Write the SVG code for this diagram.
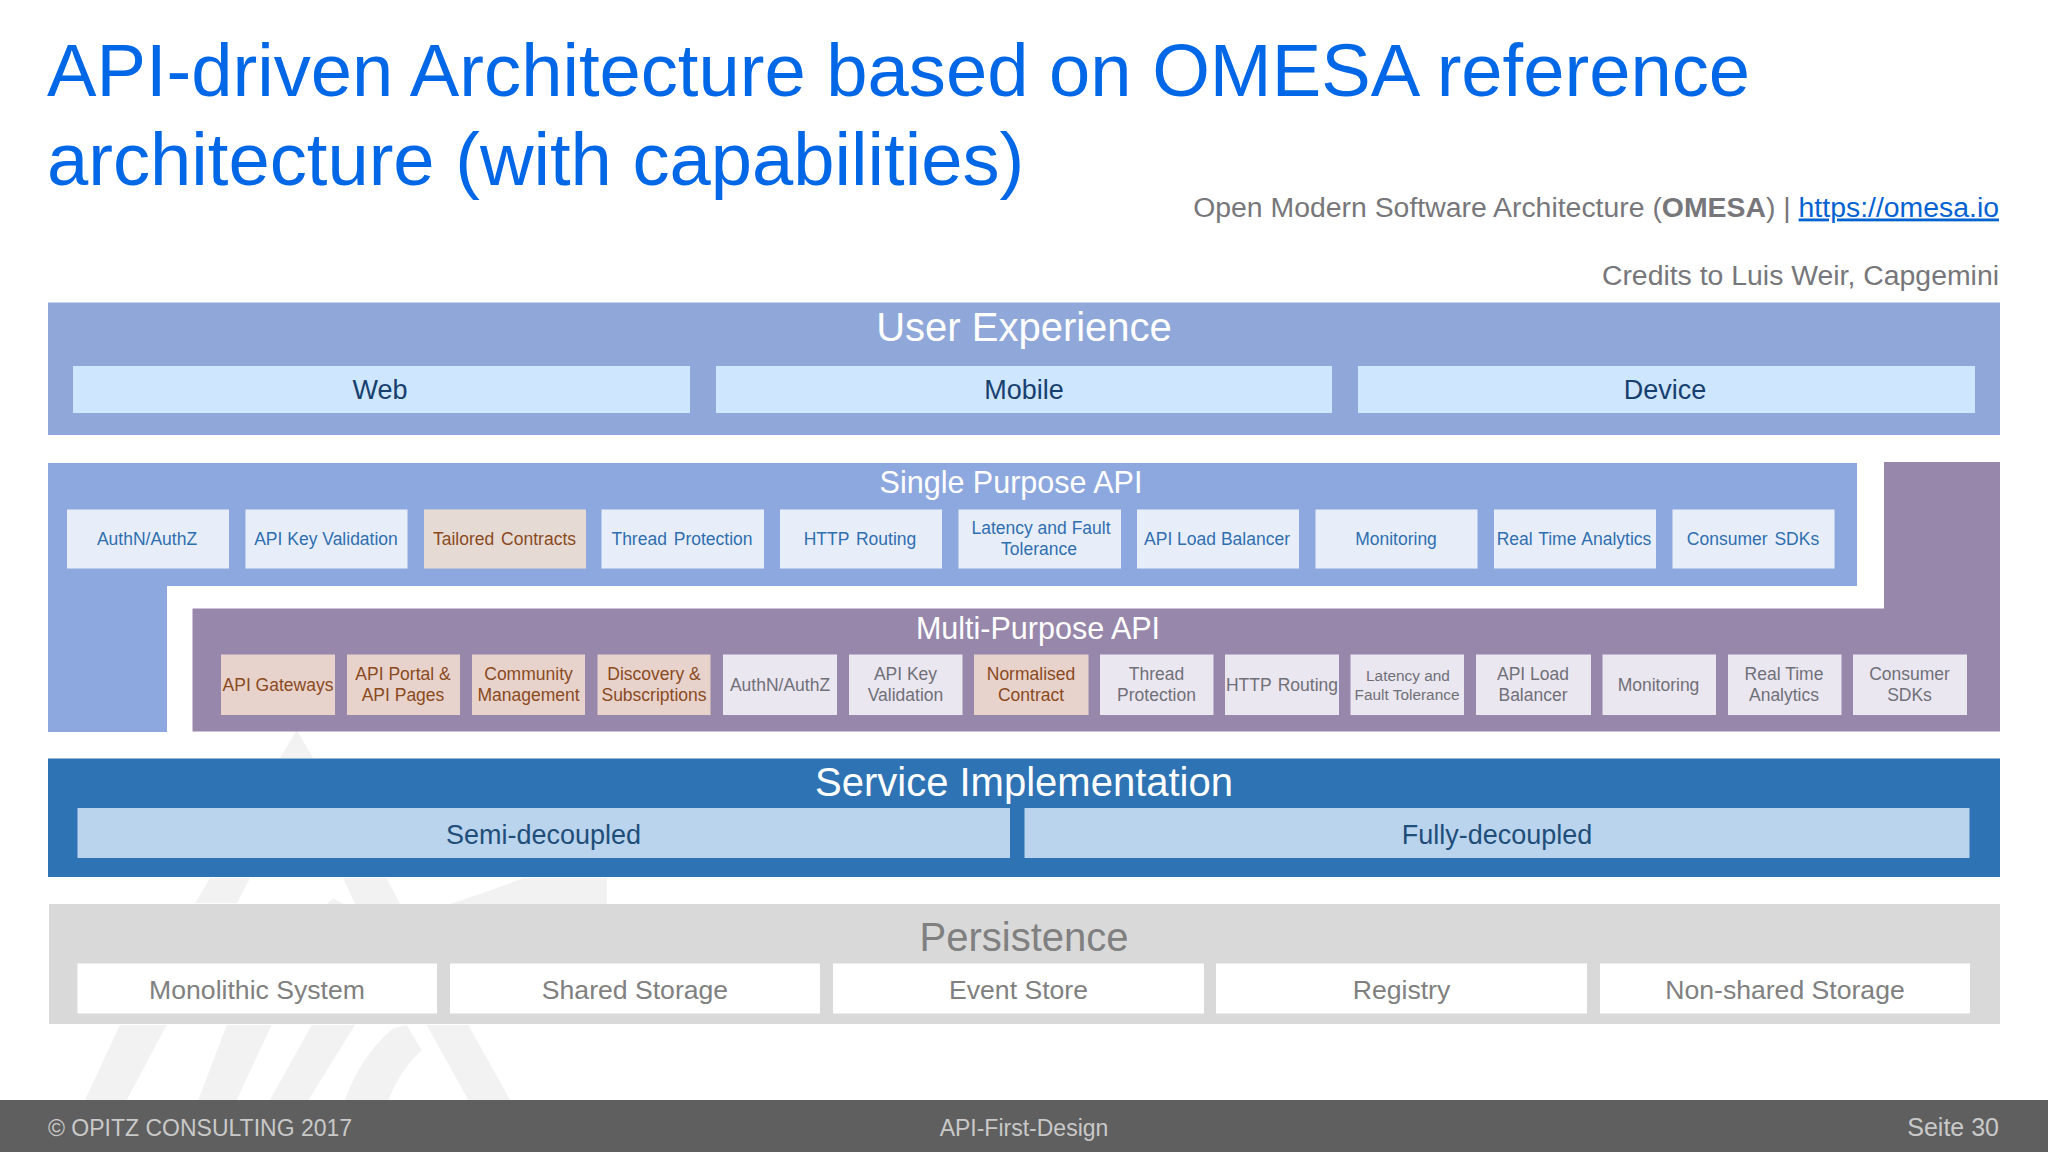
<svg xmlns="http://www.w3.org/2000/svg" width="2048" height="1152" viewBox="0 0 2048 1152">
<style>
text{font-family:"Liberation Sans",Arial,sans-serif}
.m{text-anchor:middle}
.e{text-anchor:end}
.title{font-size:74.200px;fill:#0067e6}
.sub{font-size:28.400px;fill:#77777b}
.ph{font-size:40px;fill:#fff}
.ph2{font-size:30.500px;fill:#fff}
.ux{fill:#8fa8d9}
.ub{fill:#cfe6ff}
.ut{font-size:27px;fill:#17406f}
.sp{fill:#8da8de}
.sb{fill:#e8eef9}
.so{fill:#e6dbd4}
.st{font-size:17.500px;fill:#2f6fb0;word-spacing:2px}
.ot{font-size:17.500px;fill:#8a4a1e;word-spacing:2px}
.mp{fill:#9787ab}
.mb{fill:#ebe7f0}
.mo{fill:#e8d3cc}
.mt{font-size:17.500px;fill:#707078}
.si{fill:#2e74b5}
.ib{fill:#bad4ee}
.it{font-size:27px;fill:#1f4e79}
.pe{fill:#d9d9d9}
.pt{font-size:26.600px;fill:#808080}
.ft{font-size:23px;fill:#c9c9c9}
.wm{fill:#f2f2f2}
</style>
<rect width="2048" height="1152" fill="#fff"/>
<g id="watermark" transform="translate(60 720) scale(.33333)" class="wm">
<polygon points="710,30 760,115 660,115"/>
<polygon points="405,550 450,475 570,475 530,550"/>
<polygon points="850,475 980,475 1020,552 885,552"/>
<polygon points="180,915 320,915 200,1140 75,1140"/>
<polygon points="500,915 635,915 530,1140 415,1140"/>
<polygon points="755,915 885,915 745,1140 630,1140"/>
<path d="M1000,925 L1040,915 L1085,990 Q1020,1050 985,1140 L855,1140 Q900,1010 1000,925Z"/>
<polygon points="1100,915 1225,1140 1350,1140 1225,915"/>
<path d="M1170,552 Q1270,520 1390,475 L1641,475 L1641,552Z"/>
<polygon points="800,552 820,535 850,552"/>
</g>
<g id="title">
<text class="title" x="47" y="96">API-driven Architecture based on OMESA reference</text>
<text class="title" x="47" y="185">architecture (with capabilities)</text>
</g>
<g id="source">
<text class="sub e" x="1999" y="216.500">Open Modern Software Architecture (<tspan font-weight="bold">OMESA</tspan>) | <tspan fill="#0563d1" text-decoration="underline">https://omesa.io</tspan></text>
<text class="sub e" x="1999" y="284.500">Credits to Luis Weir, Capgemini</text>
</g>
<g id="user-experience">
<rect class="ux" x="48" y="302.500" width="1952" height="132.500"/>
<text class="ph m" x="1024" y="341">User Experience</text>
<g id="ux-web"><rect class="ub" x="73" y="366" width="617" height="47"/><text class="ut m" x="380" y="399">Web</text></g>
<g id="ux-mobile"><rect class="ub" x="716" y="366" width="616" height="47"/><text class="ut m" x="1024" y="399">Mobile</text></g>
<g id="ux-device"><rect class="ub" x="1358" y="366" width="617" height="47"/><text class="ut m" x="1665" y="399">Device</text></g>
</g>
<g id="single-purpose-api">
<path class="sp" d="M48,463H1857V586H167V732H48Z"/>
<text class="ph2 m" x="1011" y="492.500">Single Purpose API</text>
<g id="sp-authn"><rect class="sb" x="67" y="509.500" width="162" height="59"/><text class="st m" x="147" y="545">AuthN/AuthZ</text></g>
<g id="sp-key"><rect class="sb" x="245.500" y="509.500" width="162" height="59"/><text class="st m" x="326" y="545" style="word-spacing:0">API Key Validation</text></g>
<g id="sp-contracts"><rect class="so" x="424" y="509.500" width="162" height="59"/><text class="ot m" x="504.500" y="545">Tailored Contracts</text></g>
<g id="sp-thread"><rect class="sb" x="601.500" y="509.500" width="162.500" height="59"/><text class="st m" x="682" y="545">Thread Protection</text></g>
<g id="sp-routing"><rect class="sb" x="780" y="509.500" width="162" height="59"/><text class="st m" x="860" y="545">HTTP Routing</text></g>
<g id="sp-latency"><rect class="sb" x="958.500" y="509.500" width="162.500" height="59"/><text class="st m" x="1041" y="534" style="word-spacing:0">Latency and Fault</text><text class="st m" x="1039" y="555">Tolerance</text></g>
<g id="sp-balancer"><rect class="sb" x="1137" y="509.500" width="162" height="59"/><text class="st m" x="1217" y="545" style="word-spacing:0">API Load Balancer</text></g>
<g id="sp-monitoring"><rect class="sb" x="1315.500" y="509.500" width="162" height="59"/><text class="st m" x="1396" y="545">Monitoring</text></g>
<g id="sp-analytics"><rect class="sb" x="1494" y="509.500" width="162" height="59"/><text class="st m" x="1574" y="545" style="word-spacing:1px">Real Time Analytics</text></g>
<g id="sp-sdks"><rect class="sb" x="1672.500" y="509.500" width="162" height="59"/><text class="st m" x="1753" y="545">Consumer SDKs</text></g>
</g>
<g id="multi-purpose-api">
<path class="mp" d="M1884,462H2000V731.500H192.500V608.500H1884Z"/>
<text class="ph2 m" x="1038" y="638.500">Multi-Purpose API</text>
<g id="mp-gateways"><rect class="mo" x="221" y="654.500" width="114" height="60.500"/><text class="ot m" x="278" y="690.500" style="word-spacing:0">API Gateways</text></g>
<g id="mp-portal"><rect class="mo" x="347" y="654.500" width="113" height="60.500"/><text class="ot m" x="403" y="680" style="word-spacing:0">API Portal &amp;</text><text class="ot m" x="403" y="701" style="word-spacing:0">API Pages</text></g>
<g id="mp-community"><rect class="mo" x="472" y="654.500" width="113" height="60.500"/><text class="ot m" x="528.500" y="680">Community</text><text class="ot m" x="528.500" y="701">Management</text></g>
<g id="mp-discovery"><rect class="mo" x="597.500" y="654.500" width="113" height="60.500"/><text class="ot m" x="654" y="680" style="word-spacing:0">Discovery &amp;</text><text class="ot m" x="654" y="701">Subscriptions</text></g>
<g id="mp-authn"><rect class="mb" x="723" y="654.500" width="114" height="60.500"/><text class="mt m" x="780" y="690.500">AuthN/AuthZ</text></g>
<g id="mp-key"><rect class="mb" x="849" y="654.500" width="113.500" height="60.500"/><text class="mt m" x="905.500" y="680">API Key</text><text class="mt m" x="905.500" y="701">Validation</text></g>
<g id="mp-contract"><rect class="mo" x="974" y="654.500" width="114.500" height="60.500"/><text class="ot m" x="1031" y="680">Normalised</text><text class="ot m" x="1031" y="701">Contract</text></g>
<g id="mp-thread"><rect class="mb" x="1100" y="654.500" width="113.500" height="60.500"/><text class="mt m" x="1156.500" y="680">Thread</text><text class="mt m" x="1156.500" y="701">Protection</text></g>
<g id="mp-routing"><rect class="mb" x="1225" y="654.500" width="114" height="60.500"/><text class="mt m" x="1282" y="690.500" style="word-spacing:1.500px">HTTP Routing</text></g>
<g id="mp-latency"><rect class="mb" x="1350.500" y="654.500" width="113.500" height="60.500"/><text class="mt m" x="1408" y="681" style="font-size:15.400px">Latency and</text><text class="mt m" x="1407" y="700" style="font-size:15.400px">Fault Tolerance</text></g>
<g id="mp-balancer"><rect class="mb" x="1476" y="654.500" width="115" height="60.500"/><text class="mt m" x="1533" y="680">API Load</text><text class="mt m" x="1533" y="701">Balancer</text></g>
<g id="mp-monitoring"><rect class="mb" x="1602.500" y="654.500" width="113.500" height="60.500"/><text class="mt m" x="1658.500" y="690.500">Monitoring</text></g>
<g id="mp-analytics"><rect class="mb" x="1728" y="654.500" width="113.500" height="60.500"/><text class="mt m" x="1784" y="680">Real Time</text><text class="mt m" x="1784" y="701">Analytics</text></g>
<g id="mp-sdks"><rect class="mb" x="1853" y="654.500" width="114" height="60.500"/><text class="mt m" x="1909.500" y="680">Consumer</text><text class="mt m" x="1909.500" y="701">SDKs</text></g>
</g>
<g id="service-implementation">
<rect class="si" x="48" y="758.500" width="1952" height="118.500"/>
<text class="ph m" x="1024" y="796">Service Implementation</text>
<g id="si-semi"><rect class="ib" x="77.500" y="808" width="932.500" height="50"/><text class="it m" x="543.500" y="843.500">Semi-decoupled</text></g>
<g id="si-fully"><rect class="ib" x="1024.500" y="808" width="945" height="50"/><text class="it m" x="1497" y="843.500">Fully-decoupled</text></g>
</g>
<g id="persistence">
<rect class="pe" x="49" y="904" width="1951" height="120"/>
<text class="m" x="1024" y="951" style="font-size:40px;fill:#808080">Persistence</text>
<g id="pe-mono"><rect fill="#fff" x="77.500" y="963.500" width="359.500" height="50"/><text class="pt m" x="257" y="999">Monolithic System</text></g>
<g id="pe-shared"><rect fill="#fff" x="450" y="963.500" width="370" height="50"/><text class="pt m" x="635" y="999">Shared Storage</text></g>
<g id="pe-event"><rect fill="#fff" x="833" y="963.500" width="371" height="50"/><text class="pt m" x="1018.500" y="999">Event Store</text></g>
<g id="pe-registry"><rect fill="#fff" x="1216" y="963.500" width="371" height="50"/><text class="pt m" x="1401.500" y="999">Registry</text></g>
<g id="pe-nonshared"><rect fill="#fff" x="1600" y="963.500" width="370" height="50"/><text class="pt m" x="1785" y="999">Non-shared Storage</text></g>
</g>
<g id="footer">
<rect x="0" y="1100" width="2048" height="52" fill="#5f5f5f"/>
<text class="ft" x="48" y="1135.500">© OPITZ CONSULTING 2017</text>
<text class="ft m" x="1024" y="1135.500">API-First-Design</text>
<text class="ft e" x="1999" y="1135.500" style="font-size:25px">Seite 30</text>
</g>
</svg>
